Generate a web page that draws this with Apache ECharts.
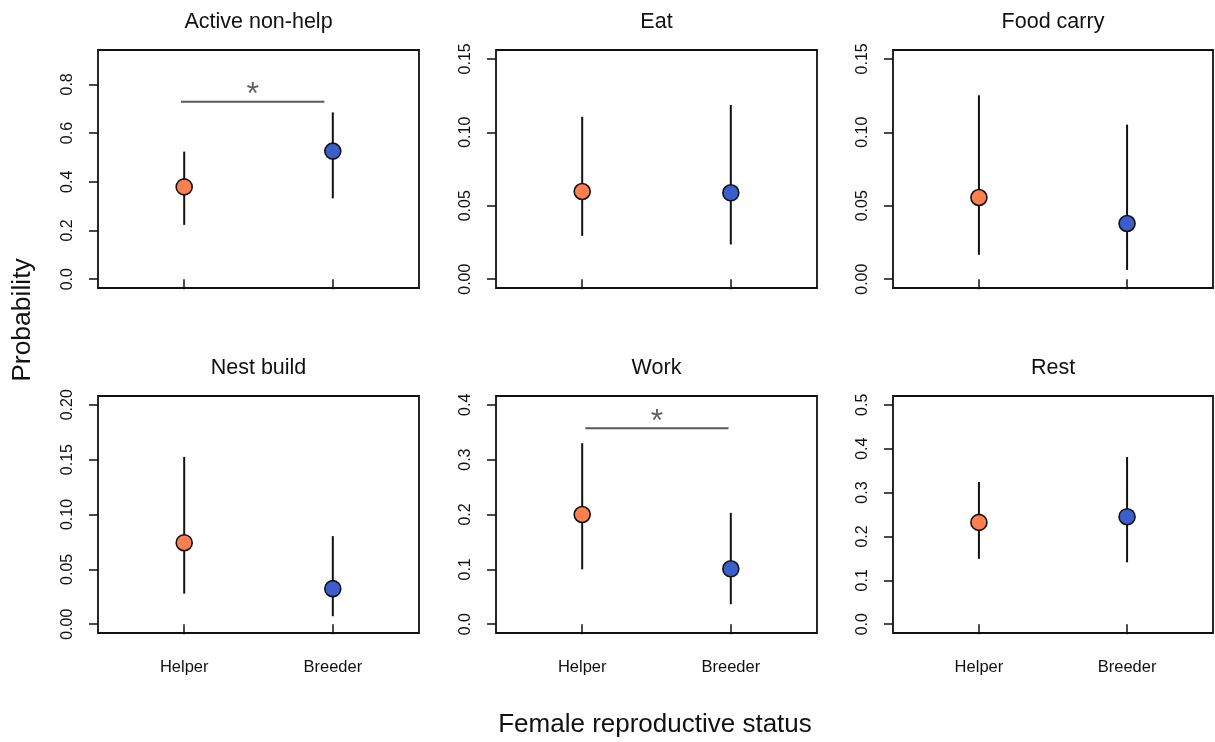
<!DOCTYPE html>
<html>
<head>
<meta charset="utf-8">
<script src="https://cdn.jsdelivr.net/npm/echarts@6/dist/echarts.min.js"></script>
<style>
  html, body { margin: 0; padding: 0; background: #fff; }
  #chart { width: 1215px; height: 742px; }
</style>
</head>
<body>
<div id="chart"></div>
<script>
// Behaviour panels and reproductive status groups
const behaviours = ['Active non-help', 'Eat', 'Food carry', 'Nest build', 'Work', 'Rest'];
const statuses = ['Helper', 'Breeder'];

// Estimated probabilities with 95% interval bounds, one value per behaviour
const helperMean  = [0.379, 0.0597, 0.0556, 0.0743, 0.200, 0.232];
const helperLower = [0.223, 0.0295, 0.0166, 0.0279, 0.100, 0.149];
const helperUpper = [0.524, 0.1105, 0.1252, 0.1525, 0.330, 0.324];
const breederMean  = [0.526, 0.0588, 0.0379, 0.0324, 0.101, 0.245];
const breederLower = [0.332, 0.0236, 0.0063, 0.0073, 0.0364, 0.141];
const breederUpper = [0.685, 0.1186, 0.1052, 0.0803, 0.203, 0.381];

// Y axis limits and tick labels per panel
const yLimit = [0.905, 0.15, 0.15, 0.20, 0.40, 0.50];
const yTicks = [
  [0, 0.2, 0.4, 0.6, 0.8],
  [0, 0.05, 0.10, 0.15],
  [0, 0.05, 0.10, 0.15],
  [0, 0.05, 0.10, 0.15, 0.20],
  [0, 0.1, 0.2, 0.3, 0.4],
  [0, 0.1, 0.2, 0.3, 0.4, 0.5]
];
const yDecimals = [1, 2, 2, 2, 1, 1];

// Significance brackets: panel index, bracket height, bracket ends
const sigPanel = [0, 4];
const sigHeight = [0.729, 0.357];
const sigFrom = [0.978, 1.021];
const sigTo = [1.943, 1.985];

const FONT = '"Liberation Sans", Arial, Helvetica, sans-serif';
const colLeft = [98, 496, 893];
const colWidth = [321, 321, 320];
const rowTop = [50, 396];
const rowHeight = [238, 237];
const statusColor = ['#FF7F50', '#3A5FCD'];

const grids = [], xAxes = [], yAxes = [], series = [], graphics = [];

behaviours.forEach((name, i) => {
  const r = Math.floor(i / 3), c = i % 3;
  grids.push({
    left: colLeft[c], top: rowTop[r], width: colWidth[c], height: rowHeight[r],
    show: true, borderColor: '#111', borderWidth: 1.8, backgroundColor: '#fff',
    containLabel: false
  });
  xAxes.push({
    type: 'value', gridIndex: i, min: 0.42, max: 2.58,
    axisLine: { show: false },
    splitLine: { show: false },
    axisTick: { show: true, inside: false, length: 10, customValues: [1, 2],
                lineStyle: { color: '#111', width: 1.5 } },
    axisLabel: {
      show: r === 1, customValues: [1, 2], margin: 26,
      fontFamily: FONT, fontSize: 16.5, color: '#111',
      formatter: v => statuses[Math.round(v) - 1] || ''
    }
  });
  const D = yLimit[i];
  yAxes.push({
    type: 'value', gridIndex: i, min: -0.04 * D, max: 1.04 * D,
    axisLine: { show: false },
    splitLine: { show: false },
    axisTick: { show: true, inside: false, length: 9, customValues: yTicks[i],
                lineStyle: { color: '#111', width: 1.5 } },
    axisLabel: {
      show: true, customValues: yTicks[i], rotate: 90, margin: 22,
      fontFamily: FONT, fontSize: 16, color: '#111',
      formatter: v => Number(v).toFixed(yDecimals[i])
    }
  });

  // Interval lines
  series.push({
    type: 'custom', xAxisIndex: i, yAxisIndex: i, z: 2,
    encode: { x: 0, y: [1, 2] },
    data: [[1, helperLower[i], helperUpper[i]], [2, breederLower[i], breederUpper[i]]],
    renderItem: (params, api) => {
      const a = api.coord([api.value(0), api.value(1)]);
      const b = api.coord([api.value(0), api.value(2)]);
      return { type: 'line', shape: { x1: a[0], y1: a[1], x2: b[0], y2: b[1] },
               style: { stroke: '#111', lineWidth: 2 } };
    },
    silent: true
  });
  // Point estimates
  series.push({
    type: 'scatter', xAxisIndex: i, yAxisIndex: i, z: 3,
    symbol: 'circle', symbolSize: 16,
    data: [
      { value: [1, helperMean[i]], itemStyle: { color: statusColor[0] } },
      { value: [2, breederMean[i]], itemStyle: { color: statusColor[1] } }
    ],
    itemStyle: { borderColor: '#111', borderWidth: 1.6, opacity: 1 },
    silent: true
  });

  // Panel title
  graphics.push({
    type: 'text', x: colLeft[c] + colWidth[c] / 2, y: rowTop[r] - 28,
    style: { text: name, font: '21.5px ' + FONT, fill: '#111',
             textAlign: 'center', textVerticalAlign: 'middle' }
  });
});

// Significance brackets with asterisks
sigPanel.forEach((p, k) => {
  series.push({
    type: 'line', xAxisIndex: p, yAxisIndex: p, z: 2,
    data: [[sigFrom[k], sigHeight[k]], [sigTo[k], sigHeight[k]]],
    showSymbol: false, symbol: 'none',
    lineStyle: { color: '#5a5a5a', width: 2 },
    silent: true, animation: false
  });
  series.push({
    type: 'scatter', xAxisIndex: p, yAxisIndex: p, z: 2,
    symbolSize: 0,
    data: [[(sigFrom[k] + sigTo[k]) / 2, sigHeight[k]]],
    label: { show: true, formatter: '*', position: 'top', distance: -10,
             fontFamily: FONT, fontSize: 32, color: '#3a3a3a' },
    silent: true
  });
});

// Shared axis titles
graphics.push({
  type: 'text', x: 655, y: 725,
  style: { text: 'Female reproductive status', font: '26px ' + FONT, fill: '#111',
           textAlign: 'center', textVerticalAlign: 'middle' }
});
graphics.push({
  type: 'text', x: 23, y: 320, rotation: Math.PI / 2,
  style: { text: 'Probability', font: '26.5px ' + FONT, fill: '#111',
           textAlign: 'center', textVerticalAlign: 'middle' }
});

const chart = echarts.init(document.getElementById('chart'), null, { renderer: 'canvas' });
chart.setOption({
  animation: false,
  backgroundColor: '#fff',
  grid: grids,
  xAxis: xAxes,
  yAxis: yAxes,
  series: series,
  graphic: graphics
});
</script>
</body>
</html>
